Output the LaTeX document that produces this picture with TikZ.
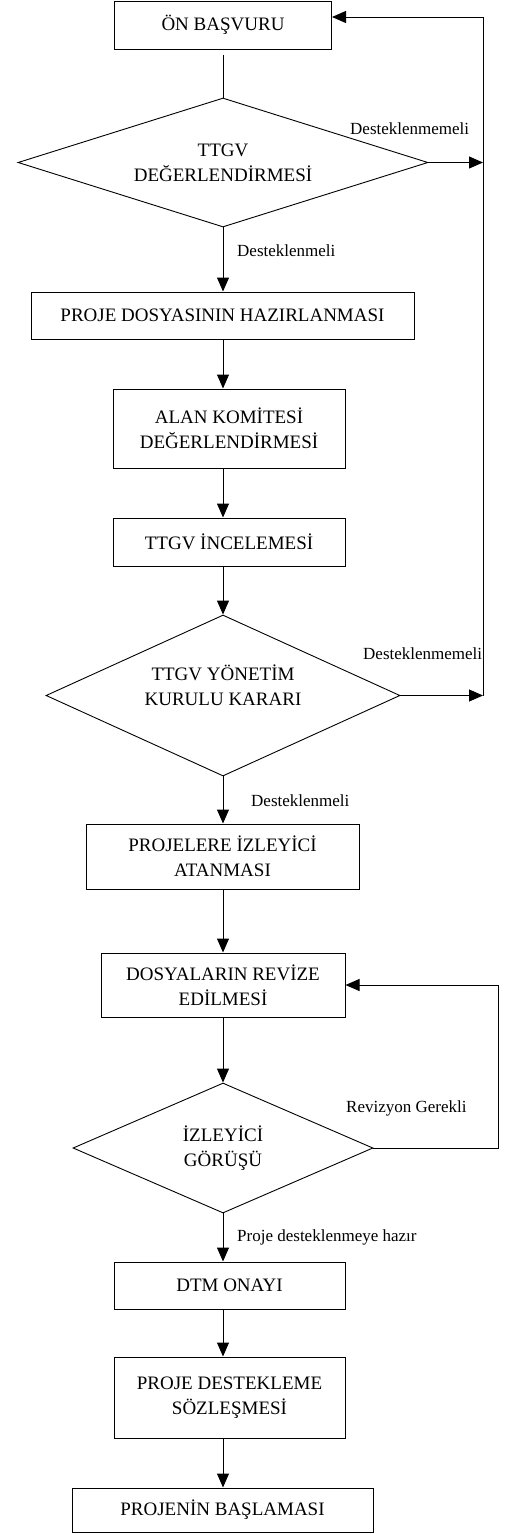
\documentclass[tikz,border=0pt]{standalone}
\usepackage{fontspec}
\setmainfont{Liberation Serif}
\usetikzlibrary{shapes.geometric,arrows.meta}
\begin{document}
\begin{tikzpicture}[x=1pt,y=-1pt,
  box/.style={draw, line width=1pt, inner sep=0pt, align=center, font=\fontsize{19}{25}\selectfont},
  dia/.style={draw, shape=diamond, line width=0.9pt, inner sep=0pt, align=center, font=\fontsize{19}{25}\selectfont},
  txt/.style={inner sep=0pt, align=center, font=\fontsize{19}{25}\selectfont},
  lab/.style={inner sep=0pt, anchor=base west, font=\fontsize{17}{20}\selectfont},
  ln/.style={line width=1pt},
  arr/.style={line width=1pt, -{Triangle[length=14pt,width=12pt]}}]
\fill[white] (0,0) rectangle (512,1534);
\useasboundingbox (0,0) rectangle (512,1534);
\coordinate (sp) at (223,0);
\coordinate (lx) at (483,0);
\coordinate (rx) at (498,0);

\node[box, minimum width=217pt, minimum height=48pt] (on) at (223,25) {ÖN BAŞVURU};
\node[dia, minimum width=410pt, minimum height=129pt, aspect=3.18] (d1) at (223,162.5) {TTGV\\DEĞERLENDİRMESİ};
\node[box, minimum width=383pt, minimum height=47pt] (pd) at (222.5,315.5) {PROJE DOSYASININ HAZIRLANMASI};
\node[box, minimum width=232pt, minimum height=79pt] (ak) at (229,428.5) {ALAN KOMİTESİ\\DEĞERLENDİRMESİ};
\node[box, minimum width=232pt, minimum height=48pt] (ti) at (229,542) {TTGV İNCELEMESİ};
\node[dia, minimum width=354pt, minimum height=161pt, aspect=2.2] (d2) at (223,695.5) {};
\node[txt] (d2t) at (223,685) {TTGV YÖNETİM\\KURULU KARARI};
\node[box, minimum width=273pt, minimum height=65pt] (pi) at (222.5,856.5) {PROJELERE İZLEYİCİ\\ATANMASI};
\node[box, minimum width=244pt, minimum height=64pt] (dr) at (223,985) {DOSYALARIN REVİZE\\EDİLMESİ};
\node[dia, minimum width=300pt, minimum height=130pt, aspect=2.3] (d3) at (223,1148) {İZLEYİCİ\\GÖRÜŞÜ};
\node[box, minimum width=231pt, minimum height=47pt] (dtm) at (229.5,1285.5) {DTM ONAYI};
\node[box, minimum width=231pt, minimum height=81pt] (ps) at (229.5,1397.5) {PROJE DESTEKLEME\\SÖZLEŞMESİ};
\node[box, minimum width=301pt, minimum height=44pt] (pb) at (222.5,1510) {PROJENİN BAŞLAMASI};

\node[lab] (l1) at (350,134) {Desteklenmemeli};
\node[lab] (l2) at (237,256) {Desteklenmeli};
\node[lab] (l3) at (363,659) {Desteklenmemeli};
\node[lab] (l4) at (251,806) {Desteklenmeli};
\node[lab] (l5) at (346,1112) {Revizyon Gerekli};
\node[lab] (l6) at (237,1241) {Proje desteklenmeye hazır};

\coordinate (onb) at ([yshift=-5pt]on.south);
\coordinate (onin) at ([yshift=8pt]on.east);
\draw[ln] (onb) -- (d1.north);
\draw[arr] (d1.south) -- (pd.north -| sp);
\draw[arr] (pd.south -| sp) -- (ak.north -| sp);
\draw[arr] (ak.south -| sp) -- (ti.north -| sp);
\draw[arr] (ti.south -| sp) -- (d2.north);
\draw[arr] (d2.south) -- (pi.north -| sp);
\draw[arr] (pi.south -| sp) -- (dr.north -| sp);
\draw[arr] (dr.south -| sp) -- (d3.north);
\draw[arr] (d3.south) -- (dtm.north -| sp);
\draw[arr] (dtm.south -| sp) -- (ps.north -| sp);
\draw[arr] (ps.south -| sp) -- (pb.north -| sp);

\draw[arr] (d1.east) -- (d1.east -| lx);
\draw[arr] (d2.east) -- (d2.east -| lx);
\draw[arr] (d2.east -| lx) -- (onin -| lx) -- (onin);
\draw[arr] (d3.east) -- (d3.east -| rx) -- (rx |- dr.east) -- (dr.east);
\end{tikzpicture}
\end{document}
